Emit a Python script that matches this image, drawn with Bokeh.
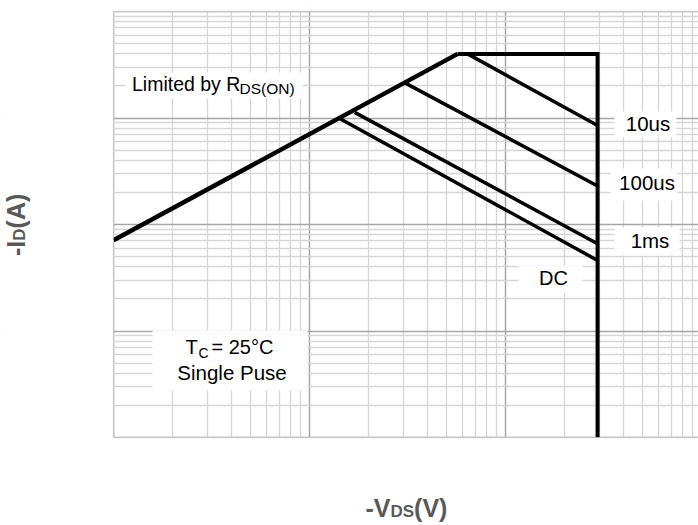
import math
from bokeh.plotting import figure
from bokeh.models import Range1d, FixedTicker, Label, BoxAnnotation
from bokeh.embed import file_html
from bokeh.resources import INLINE

# ---- data ----
rds_v = [0.1, 5.7]          # Limited by RDS(ON)
rds_i = [0.71, 40.0]
lim_v = [5.7, 29.5, 29.5]   # IDM and VDS limits
lim_i = [40.0, 40.0, 0.01]
us10_v = [6.4, 29.5]
us10_i = [40.0, 8.5]
us100_v = [3.05, 29.5]
us100_i = [21.5, 2.3]
ms1_v = [1.7, 29.5]
ms1_i = [11.3, 0.66]
dc_v = [1.41, 29.5]
dc_i = [10.0, 0.46]
x_decades = [0.1, 1, 10, 100]
y_decades = [0.01, 0.1, 1, 10, 100]
x_min, y_min, y_max = 0.1, 0.01, 100.0

# ---- geometry (canvas pixels) ----
W, H = 698, 525
PX_LEFT, PX_BOTTOM = 113, 437   # where x_min / y_min sit
DEC_X, DEC_Y = 196.0, 106.5

def xd(px):  # canvas px -> data
    return 10 ** (math.log10(x_min) + (px - PX_LEFT) / DEC_X)

def yd(py):
    return 10 ** (math.log10(y_min) + (PX_BOTTOM - py) / DEC_Y)

p = figure(width=W, height=H, x_axis_type="log", y_axis_type="log",
           x_range=Range1d(xd(0), xd(W)), y_range=Range1d(yd(H), yd(0)),
           output_backend="svg", toolbar_location=None, title=None,
           min_border_left=0, min_border_right=0, min_border_top=0,
           min_border_bottom=0)
p.xaxis.visible = False
p.yaxis.visible = False
p.outline_line_color = None
p.background_fill_color = "white"
p.border_fill_color = "white"

def minors(decs):
    return [k * d for d in decs for k in range(2, 10)]

p.xgrid.ticker = FixedTicker(ticks=x_decades, minor_ticks=minors(x_decades))
p.ygrid.ticker = FixedTicker(ticks=y_decades, minor_ticks=minors(y_decades))
for g in (p.xgrid, p.ygrid):
    g.grid_line_color = "#a6a6a6"
    g.grid_line_width = 1.5
    g.minor_grid_line_color = "#d6d6d6"
    g.minor_grid_line_width = 1.3

# white boxes behind in-plot labels
for (l, r, t, b) in [(125, 302, 72, 98), (152, 307, 330, 390),
                     (614, 676, 111, 137), (610, 677, 168, 200),
                     (614, 679, 227, 255), (518, 582, 265, 292)]:
    p.add_layout(BoxAnnotation(left=xd(l), right=xd(r), top=yd(t), bottom=yd(b),
                               fill_color="white", fill_alpha=1.0, line_color=None,
                               level="underlay"))

p.line(rds_v, rds_i, line_color="black", line_width=4.5)
p.line(lim_v, lim_i, line_color="black", line_width=4, line_join="miter")
for v, i in [(us10_v, us10_i), (us100_v, us100_i), (ms1_v, ms1_i), (dc_v, dc_i)]:
    p.line(v, i, line_color="black", line_width=3.5)

# blank margins around the plotting area, then its border
far_l, far_r, far_t, far_b = xd(-20), xd(W + 20), yd(-20), yd(H + 20)
for (l, r, t, b) in [(far_l, x_min, far_t, far_b),
                     (far_l, far_r, far_t, y_max),
                     (far_l, far_r, y_min, far_b)]:
    p.add_layout(BoxAnnotation(left=l, right=r, top=t, bottom=b,
                               fill_color="white", fill_alpha=1.0, line_color=None,
                               level="guide"))
p.add_layout(BoxAnnotation(left=x_min, right=far_r, top=y_max, bottom=y_min,
                           fill_alpha=0.0, line_color="#a6a6a6", line_width=1.5,
                           level="guide"))

FONT = "Liberation Sans"

def lab(text, px, py, size, align="left", color="black", style="normal", rotated=False):
    off = 0.4 * size   # renderer places alphabetic text lower than asked
    if rotated:
        px, ang = px - off, math.pi / 2
    else:
        py, ang = py - off, 0
    p.add_layout(Label(x=xd(px), y=yd(py), text=text, text_font=FONT,
                       text_font_size=f"{size}px", text_align=align,
                       text_baseline="alphabetic", text_color=color,
                       text_font_style=style, angle=ang))

lab("Limited by R", 131.5, 91, 19.5)
lab("DS(ON)", 239, 94.5, 15.5)
lab("T", 185, 354, 20)
lab("C", 198, 358, 14)
lab("= 25°C", 211, 354, 20)
lab("Single Puse", 231.5, 380, 20.5, align="center")
lab("10us", 647.5, 131.5, 20.5, align="center")
lab("100us", 646.5, 190, 20.5, align="center")
lab("1ms", 649.5, 248, 20.5, align="center")
lab("DC", 553, 285, 20, align="center")

GRAY = "#595959"
# x axis label  -V_DS(V)
lab("-V", 365, 517, 25, color=GRAY, style="bold")
lab("DS", 390, 518, 17, color=GRAY, style="bold")
lab("(V)", 413.6, 517, 25, color=GRAY, style="bold")
# y axis label  -I_D(A)
lab("-I", 25, 255.5, 25, color=GRAY, style="bold", rotated=True)
lab("D", 26, 240.2, 17, color=GRAY, style="bold", rotated=True)
lab("(A)", 25, 227.9, 25, color=GRAY, style="bold", rotated=True)

open("out.html", "w").write(file_html(p, INLINE))
